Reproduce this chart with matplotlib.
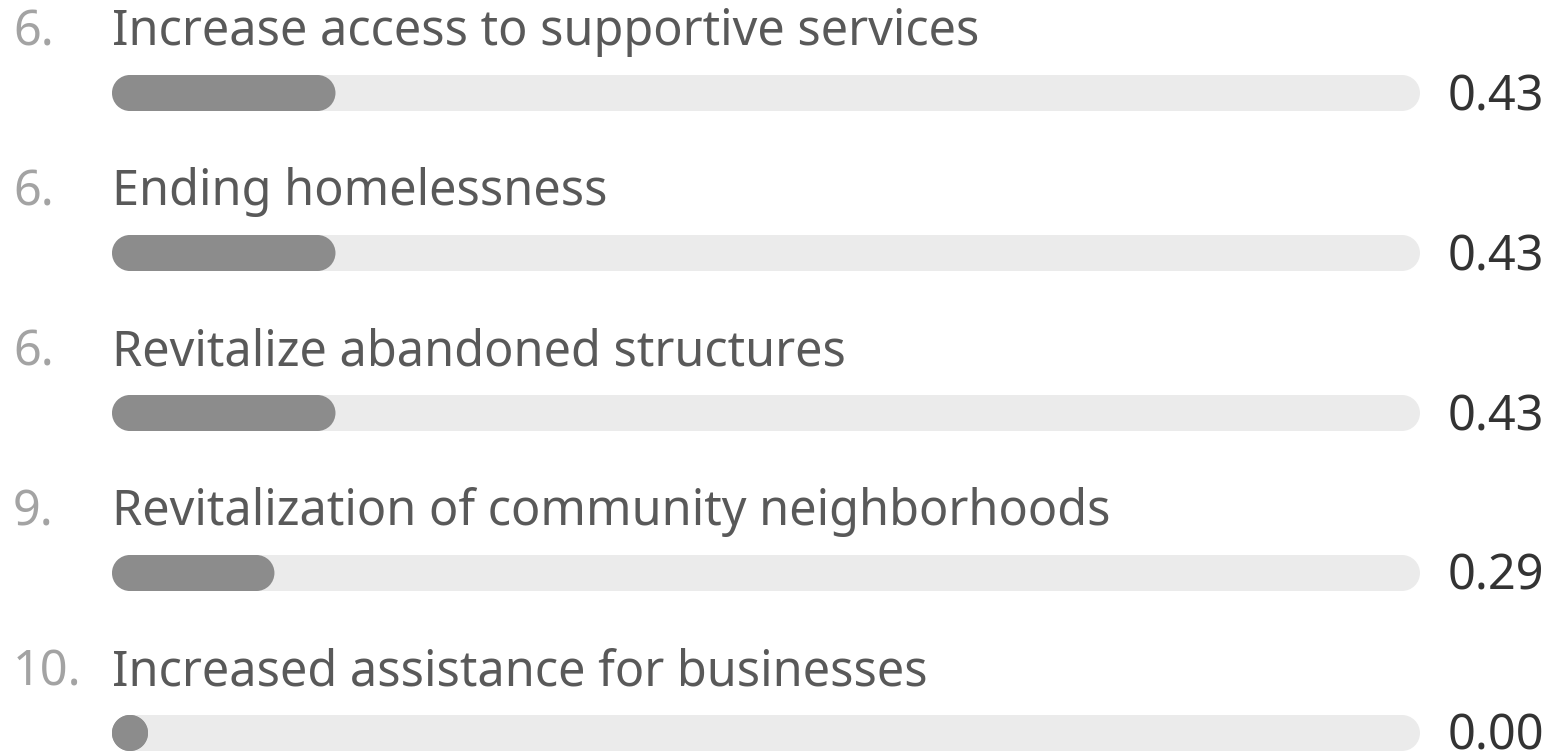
import matplotlib
matplotlib.use("Agg")
import matplotlib.pyplot as plt
from matplotlib.patches import Rectangle, Circle

plt.rcParams['font.family'] = ['Noto Sans', 'DejaVu Sans']

ranks = ["6.", "6.", "6.", "9.", "10."]
labels = [
    "Increase access to supportive services",
    "Ending homelessness",
    "Revitalize abandoned structures",
    "Revitalization of community neighborhoods",
    "Increased assistance for businesses",
]
scores = [0.43, 0.43, 0.43, 0.29, 0.00]
score_max = 3.0

W, H = 1556, 753
fig = plt.figure(figsize=(W / 100, H / 100), dpi=100)
ax = fig.add_axes([0, 0, 1, 1])
ax.set_xlim(0, W)
ax.set_ylim(H, 0)
ax.axis("off")

x0 = 112
track_w = 1308
bar_h = 36
r = bar_h / 2
row_gap = 160
first_c = 93


def pill(x, yc, w, color):
    # rounded bar: rect in the middle, half circles at the ends
    ax.add_patch(Rectangle((x + r, yc - r), max(w - bar_h, 0), bar_h, fc=color, ec="none", lw=0))
    ax.add_patch(Circle((x + r, yc), r, fc=color, ec="none", lw=0))
    ax.add_patch(Circle((x + w - r, yc), r, fc=color, ec="none", lw=0))


for i, (rk, lab, v) in enumerate(zip(ranks, labels, scores)):
    yc = first_c + i * row_gap
    pill(x0, yc, track_w, "#ebebeb")
    fill_w = bar_h + v / score_max * track_w
    pill(x0, yc, fill_w, "#8c8c8c")
    ax.text(13, yc - 48, rk, fontsize=35, color="#a3a3a3", va="baseline", ha="left")
    ax.text(112, yc - 48, lab, fontsize=35, color="#595959", va="baseline", ha="left")
    ax.text(1544, yc + 17, f"{v:.2f}", fontsize=35, color="#333333", va="baseline", ha="right")

fig.savefig("out.png", dpi=100)
